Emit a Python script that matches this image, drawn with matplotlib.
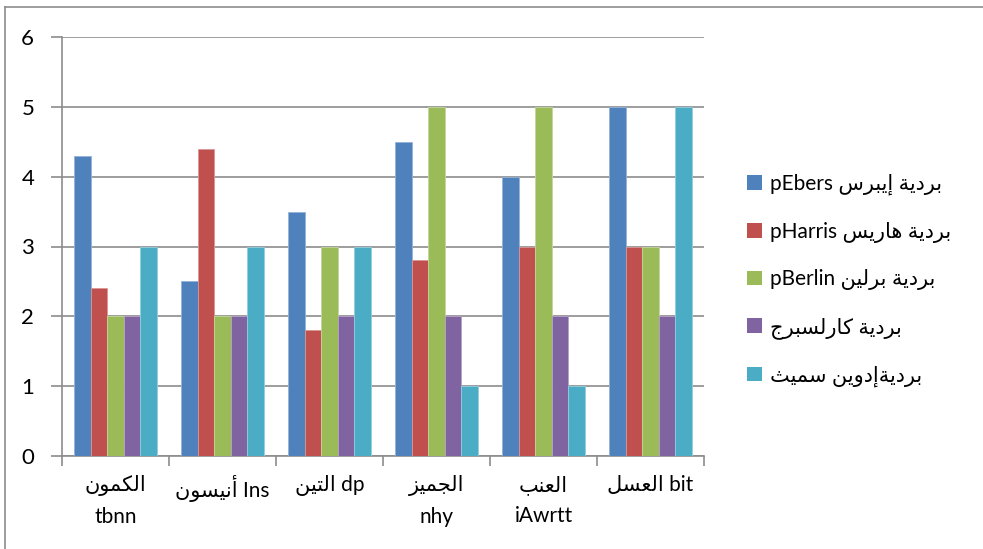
import matplotlib
matplotlib.use("Agg")
import matplotlib.pyplot as plt
import numpy as np
from matplotlib.lines import Line2D
from matplotlib.patches import Patch

plt.rcParams.update({
    "font.family": ["Lato", "DejaVu Sans"],
    "font.size": 15,
})

# --- data -----------------------------------------------------------------
cat_ar = ["الكمون", "أنيسون", "التين", "الجميز", "العنب", "العسل"]
cat_lat = ["tbnn", "Ins", "dp", "nhy", "iAwrtt", "bit"]
cat_wrap = [True, False, False, True, True, False]

series_ar = ["بردية إيبرس", "بردية هاريس", "بردية برلين", "بردية كارلسبرج", "برديةإدوين سميث"]
series_lat = ["pEbers", "pHarris", "pBerlin", "", ""]

ebers = [4.3, 2.5, 3.5, 4.5, 4.0, 5.0]
harris = [2.4, 4.4, 1.8, 2.8, 3.0, 3.0]
berlin = [2.0, 2.0, 3.0, 5.0, 5.0, 3.0]
carlsberg = [2.0, 2.0, 2.0, 2.0, 2.0, 2.0]
edwin_smith = [3.0, 3.0, 3.0, 1.0, 1.0, 5.0]

colors = ["#4F81BD", "#C0504D", "#9BBB59", "#8064A2", "#4BACC6"]

# --- minimal arabic shaping (matplotlib does no bidi / joining) -----------
# letter -> (isolated form, number of forms); forms are consecutive:
# isolated, final, initial, medial
_FORMS = {
    "ا": (0xFE8D, 2), "أ": (0xFE83, 2), "إ": (0xFE87, 2), "آ": (0xFE81, 2),
    "ب": (0xFE8F, 4), "ة": (0xFE93, 2), "ت": (0xFE95, 4), "ث": (0xFE99, 4),
    "ج": (0xFE9D, 4), "ح": (0xFEA1, 4), "خ": (0xFEA5, 4), "د": (0xFEA9, 2),
    "ذ": (0xFEAB, 2), "ر": (0xFEAD, 2), "ز": (0xFEAF, 2), "س": (0xFEB1, 4),
    "ش": (0xFEB5, 4), "ص": (0xFEB9, 4), "ض": (0xFEBD, 4), "ط": (0xFEC1, 4),
    "ظ": (0xFEC5, 4), "ع": (0xFEC9, 4), "غ": (0xFECD, 4), "ف": (0xFED1, 4),
    "ق": (0xFED5, 4), "ك": (0xFED9, 4), "ل": (0xFEDD, 4), "م": (0xFEE1, 4),
    "ن": (0xFEE5, 4), "ه": (0xFEE9, 4), "و": (0xFEED, 2), "ى": (0xFEEF, 2),
    "ي": (0xFEF1, 4),
}


def ar(text):
    """Shape an arabic string and return it in visual (left-to-right) order."""
    out = []
    for i, c in enumerate(text):
        if c not in _FORMS:
            out.append(c)
            continue
        base, n = _FORMS[c]
        prev = text[i - 1] if i > 0 else ""
        nxt = text[i + 1] if i + 1 < len(text) else ""
        join_prev = prev in _FORMS and _FORMS[prev][1] == 4
        join_next = n == 4 and nxt in _FORMS
        if join_prev and join_next:
            code = base + 3
        elif join_prev:
            code = base + 1
        elif join_next:
            code = base + 2
        else:
            code = base
        out.append(chr(code))
    return "".join(reversed(out))


cat_labels = [
    ar(a) + ("\n" if w else " ") + l for a, l, w in zip(cat_ar, cat_lat, cat_wrap)
]
series_labels = [(l + " " if l else "") + ar(a) for a, l in zip(series_ar, series_lat)]
values = [ebers, harris, berlin, carlsberg, edwin_smith]

# --- figure ---------------------------------------------------------------
fig = plt.figure(figsize=(9.83, 5.49), dpi=100)
ax = fig.add_axes([62 / 983, 1 - 456 / 549, 642 / 983, 419 / 549])

x = np.arange(len(cat_ar))
width = 1 / 6.5
for i, (vals, col) in enumerate(zip(values, colors)):
    ax.bar(x + (i - 2) * width, vals, width, color=col,
           edgecolor=matplotlib.colors.to_hex(
               0.6 * np.array(matplotlib.colors.to_rgb(col)) + 0.4),
           linewidth=0.6, zorder=3)

grid_c = "#8C8C8C"
ax.set_xlim(-0.5, len(cat_ar) - 0.5)
ax.set_ylim(0, 6)
ax.set_yticks(range(7))
ax.yaxis.grid(True, color=grid_c, linewidth=1.2, zorder=0)
ax.set_axisbelow(True)

ax.set_xticks(x)
ax.set_xticklabels(cat_labels, linespacing=1.65)
ax.set_xticks(np.arange(-0.5, len(cat_ar)), minor=True)
ax.tick_params(axis="x", which="major", length=0, pad=14, labelsize=15)
ax.tick_params(axis="x", which="minor", length=7, width=1.2, color=grid_c,
               direction="out")
ax.tick_params(axis="y", length=8, width=1.2, color=grid_c, pad=12,
               labelsize=16)

for s in ["top", "right"]:
    ax.spines[s].set_visible(False)
for s in ["left", "bottom"]:
    ax.spines[s].set_color(grid_c)
    ax.spines[s].set_linewidth(1.2)

handles = [Patch(facecolor=c, edgecolor="none") for c in colors]
fig.legend(handles, series_labels, loc="upper left",
           bbox_to_anchor=(747 / 983, 1 - 174 / 549), frameon=False,
           handlelength=0.7, handleheight=0.7, handletextpad=0.4,
           labelspacing=1.27, borderpad=0, borderaxespad=0, fontsize=15)

# chart frame (top and left edges visible in the crop)
fig.add_artist(Line2D([5 / 983, 5 / 983], [0, 1 - 7 / 549], color="#8C8C8C",
                      linewidth=1.2, transform=fig.transFigure))
fig.add_artist(Line2D([5 / 983, 1], [1 - 7 / 549, 1 - 7 / 549], color="#8C8C8C",
                      linewidth=1.2, transform=fig.transFigure))

fig.savefig("out.png", dpi=100)
